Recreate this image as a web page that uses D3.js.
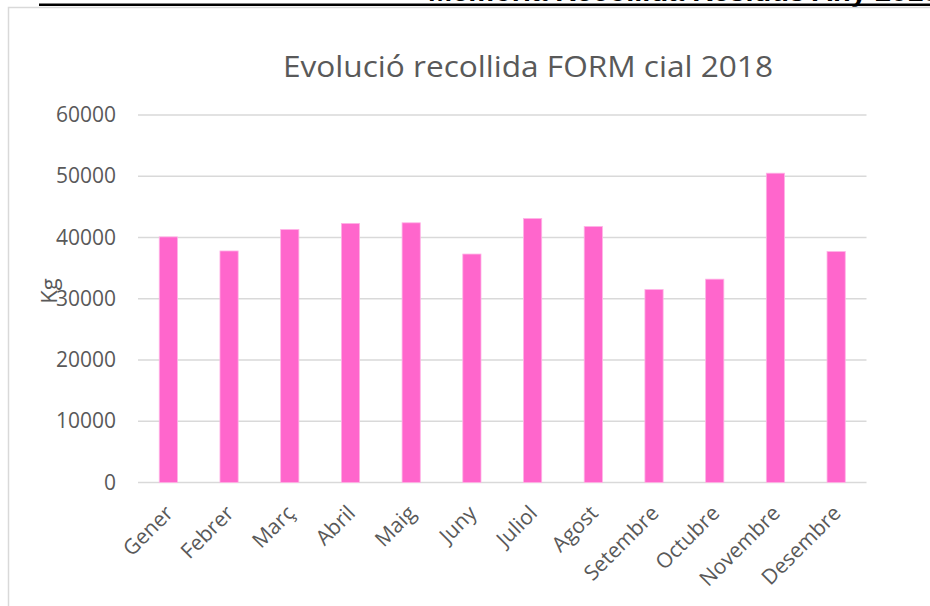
<!DOCTYPE html>
<html>
<head>
<meta charset="utf-8">
<script src="https://cdn.jsdelivr.net/npm/d3@7"></script>
<style>
  body { margin: 0; background: #fff; }
  svg { display: block; }
</style>
</head>
<body>
<div id="chart"></div>
<script>
// data
var months = ["Gener", "Febrer", "Març", "Abril", "Maig", "Juny", "Juliol",
  "Agost", "Setembre", "Octubre", "Novembre", "Desembre"];
var kgValues = [40100, 37800, 41300, 42300, 42400, 37300, 43100,
  41800, 31500, 33200, 50500, 37700];
var yTicks = [0, 10000, 20000, 30000, 40000, 50000, 60000];

var width = 930;
var height = 606;

var svg = d3.select("#chart")
    .append("svg")
    .attr("width", width)
    .attr("height", height);

// page header (cut off at the top, like the source page)
svg.append("text")
    .attr("x", 428)
    .attr("y", 1)
    .attr("font-family", "Liberation Sans, Arial, sans-serif")
    .attr("font-weight", "bold")
    .attr("font-size", 29)
    .attr("fill", "#000")
    .text("Memòria Recollida Residus Any 2018");
svg.append("rect")
    .attr("x", 39).attr("y", 3.5)
    .attr("width", width - 39).attr("height", 2.5)
    .attr("fill", "#000");

// chart frame
svg.append("rect")
    .attr("x", 8.5).attr("y", 7.5)
    .attr("width", 1000).attr("height", 700)
    .attr("fill", "none")
    .attr("stroke", "#d9d9d9")
    .attr("stroke-width", 1.5);

// title
svg.append("text")
    .attr("x", 528)
    .attr("y", 77)
    .attr("text-anchor", "middle")
    .attr("font-family", "Open Sans, sans-serif")
    .attr("font-size", 30)
    .attr("fill", "#595959")
    .attr("textLength", 490)
    .attr("lengthAdjust", "spacingAndGlyphs")
    .text("Evolució recollida FORM cial 2018");

// scales
var x = d3.scaleBand()
    .domain(months)
    .range([138, 866.5]);

var y = d3.scaleLinear()
    .domain([0, 60000])
    .range([482.5, 115]);

// gridlines
svg.append("g")
    .selectAll("line")
    .data(yTicks)
    .enter()
    .append("line")
    .attr("x1", 138)
    .attr("x2", 866.5)
    .attr("y1", function(d) { return y(d); })
    .attr("y2", function(d) { return y(d); })
    .attr("stroke", "#d9d9d9")
    .attr("stroke-width", 1.6);

// y axis labels
var yAxis = d3.axisLeft(y).tickValues(yTicks).tickSize(0).tickPadding(0)
    .tickFormat(d3.format("d"));
var yG = svg.append("g")
    .attr("transform", "translate(116,0)")
    .call(yAxis);
yG.select(".domain").remove();
yG.selectAll("text")
    .attr("font-family", "Open Sans, sans-serif")
    .attr("font-size", 21)
    .attr("fill", "#595959");

// y axis title
svg.append("text")
    .attr("transform", "translate(57,291)rotate(-90)")
    .attr("text-anchor", "middle")
    .attr("font-family", "Open Sans, sans-serif")
    .attr("font-size", 22)
    .attr("fill", "#595959")
    .text("Kg");

// bars
var barW = x.bandwidth() * 0.3;
svg.append("g")
    .selectAll("rect")
    .data(kgValues)
    .enter()
    .append("rect")
    .attr("x", function(d, i) { return x(months[i]) + x.bandwidth() / 2 - barW / 2; })
    .attr("y", function(d) { return y(d); })
    .attr("width", barW)
    .attr("height", function(d) { return y(0) - y(d); })
    .attr("fill", "#ff66cc")
    .attr("stroke", "#ffb3e6")
    .attr("stroke-width", 0.8);

// x axis labels
var xAxis = d3.axisBottom(x).tickSize(0).tickPadding(0);
var xG = svg.append("g")
    .attr("transform", "translate(0,482.5)")
    .call(xAxis);
xG.select(".domain").remove();
xG.selectAll("text")
    .attr("font-family", "Open Sans, sans-serif")
    .attr("font-size", 21)
    .attr("fill", "#595959")
    .attr("text-anchor", "end")
    .attr("dy", null)
    .attr("y", 0)
    .attr("transform", "translate(6,32)rotate(-45)");
</script>
</body>
</html>
